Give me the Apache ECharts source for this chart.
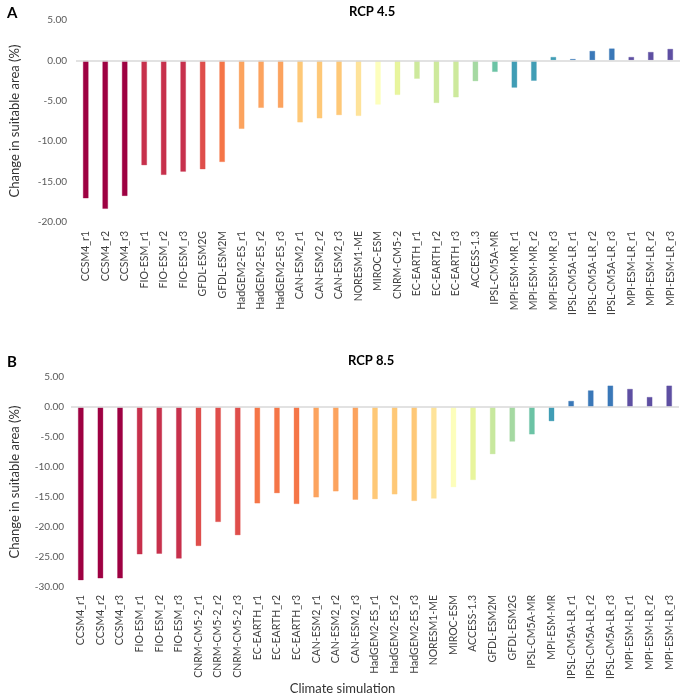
<!DOCTYPE html>
<html>
<head>
<meta charset="utf-8">
<script src="https://cdn.jsdelivr.net/npm/echarts@6/dist/echarts.min.js"></script>
<style>
html,body{margin:0;padding:0;background:#fff;}
#main{width:685px;height:695px;}
</style>
</head>
<body>
<div id="main"></div>
<script>
// ---- Data ----
const categoriesA = ['CCSM4_r1','CCSM4_r2','CCSM4_r3','FIO-ESM_r1','FIO-ESM_r2','FIO-ESM_r3','GFDL-ESM2G','GFDL-ESM2M','HadGEM2-ES_r1','HadGEM2-ES_r2','HadGEM2-ES_r3','CAN-ESM2_r1','CAN-ESM2_r2','CAN-ESM2_r3','NORESM1-ME','MIROC-ESM','CNRM-CM5-2','EC-EARTH_r1','EC-EARTH_r2','EC-EARTH_r3','ACCESS-1.3','IPSL-CM5A-MR','MPI-ESM-MR_r1','MPI-ESM-MR_r2','MPI-ESM-MR_r3','IPSL-CM5A-LR_r1','IPSL-CM5A-LR_r2','IPSL-CM5A-LR_r3','MPI-ESM-LR_r1','MPI-ESM-LR_r2','MPI-ESM-LR_r3'];
const valuesA = [-17.1,-18.4,-16.8,-13.0,-14.2,-13.8,-13.5,-12.6,-8.5,-5.9,-5.9,-7.7,-7.2,-6.8,-6.9,-5.5,-4.3,-2.3,-5.3,-4.6,-2.6,-1.45,-3.4,-2.55,0.45,0.2,1.2,1.5,0.45,1.07,1.45];

const categoriesB = ['CCSM4_r1','CCSM4_r2','CCSM4_r3','FIO-ESM_r1','FIO-ESM_r2','FIO-ESM_r3','CNRM-CM5-2_r1','CNRM-CM5-2_r2','CNRM-CM5-2_r3','EC-EARTH_r1','EC-EARTH_r2','EC-EARTH_r3','CAN-ESM2_r1','CAN-ESM2_r2','CAN-ESM2_r3','HadGEM2-ES_r1','HadGEM2-ES_r2','HadGEM2-ES_r3','NORESM1-ME','MIROC-ESM','ACCESS-1.3','GFDL-ESM2M','GFDL-ESM2G','IPSL-CM5A-MR','MPI-ESM-MR','IPSL-CM5A-LR_r1','IPSL-CM5A-LR_r2','IPSL-CM5A-LR_r3','MPI-ESM-LR_r1','MPI-ESM-LR_r2','MPI-ESM-LR_r3'];
const valuesB = [-28.9,-28.6,-28.6,-24.6,-24.5,-25.3,-23.2,-19.2,-21.4,-16.1,-14.4,-16.2,-15.1,-14.1,-15.5,-15.4,-14.6,-15.7,-15.3,-13.4,-12.2,-7.9,-5.8,-4.6,-2.4,1.05,2.8,3.6,3.05,1.7,3.6];

// ---- Styles ----
const colorsA = ['#9e0142','#9e0142','#9e0142','#c7304c','#c7304c','#c7304c','#df4e4b','#f57547','#fca35e','#fca35e','#fca35e','#fec877','#fec877','#fec877','#fee39a','#fdfebc','#e8f59d','#cde99c','#cde99c','#cde99c','#a5d9a2','#6cc3a5','#409db5','#409db5','#409db5','#3a78b8','#3a78b8','#3a78b8','#5e4fa2','#5e4fa2','#5e4fa2'];
const colorsB = ['#9e0142','#9e0142','#9e0142','#c7304c','#c7304c','#c7304c','#df4e4b','#df4e4b','#df4e4b','#f57547','#f57547','#f57547','#fca35e','#fca35e','#fca35e','#fec877','#fec877','#fec877','#fee39a','#fdfebc','#e8f59d','#c8e89e','#a5d9a2','#6cc3a5','#409db5','#3a78b8','#3a78b8','#3a78b8','#5e4fa2','#5e4fa2','#5e4fa2'];

const FONT = 'Lato, "Liberation Sans", sans-serif';

function barData(vals, cols){
  return vals.map((v,i)=>({value:v, itemStyle:{color:cols[i], borderColor:cols[i]+'55', borderWidth:1}}));
}
const zeroLine = {silent:true, symbol:['none','none'], label:{show:false},
  lineStyle:{color:'#d9d9d9', width:1.5, type:'solid'}, data:[{yAxis:0}]};

const chart = echarts.init(document.getElementById('main'));
chart.setOption({
  animation:false,
  backgroundColor:'#fff',
  title:[
    {text:'A', left:2, top:1, textStyle:{fontFamily:FONT, fontWeight:'bold', fontSize:15, color:'#000'}},
    {text:'RCP 4.5', left:344, top:0, textStyle:{fontFamily:FONT, fontWeight:'bold', fontSize:13, color:'#000'}},
    {text:'B', left:2, top:350, textStyle:{fontFamily:FONT, fontWeight:'bold', fontSize:15, color:'#000'}},
    {text:'RCP 8.5', left:343, top:349, textStyle:{fontFamily:FONT, fontWeight:'bold', fontSize:13, color:'#000'}},
    {text:'Climate simulation', left:'center', top:677, textStyle:{fontFamily:FONT, fontWeight:'normal', fontSize:13, color:'#333'}}
  ],
  grid:[
    {left:72, right:5, top:20, height:202},
    {left:66, right:6, top:377, height:210}
  ],
  xAxis:[
    {gridIndex:0, type:'category', data:categoriesA, position:'bottom',
      axisLine:{show:false}, axisTick:{show:false},
      axisLabel:{rotate:90, interval:0, margin:9, fontSize:10.5, fontFamily:FONT, color:'#404040'}},
    {gridIndex:1, type:'category', data:categoriesB, position:'bottom',
      axisLine:{show:false}, axisTick:{show:false},
      axisLabel:{rotate:90, interval:0, margin:8, fontSize:10.5, fontFamily:FONT, color:'#404040'}}
  ],
  yAxis:[
    {gridIndex:0, type:'value', min:-20, max:5, interval:5,
      name:'Change in suitable area (%)', nameLocation:'middle', nameGap:55,
      nameTextStyle:{fontFamily:FONT, fontSize:13, color:'#333'},
      axisLine:{show:false}, axisTick:{show:false}, splitLine:{show:false},
      axisLabel:{margin:9, fontSize:10, fontFamily:FONT, color:'#595959', formatter:v=>v.toFixed(2)}},
    {gridIndex:1, type:'value', min:-30, max:5, interval:5,
      name:'Change in suitable area (%)', nameLocation:'middle', nameGap:50,
      nameTextStyle:{fontFamily:FONT, fontSize:13, color:'#333'},
      axisLine:{show:false}, axisTick:{show:false}, splitLine:{show:false},
      axisLabel:{margin:7, fontSize:10, fontFamily:FONT, color:'#595959', formatter:v=>v.toFixed(2)}}
  ],
  series:[
    {type:'bar', xAxisIndex:0, yAxisIndex:0, barWidth:6, data:barData(valuesA, colorsA), markLine:zeroLine, z:2},
    {type:'bar', xAxisIndex:1, yAxisIndex:1, barWidth:6, data:barData(valuesB, colorsB), markLine:zeroLine, z:2}
  ]
});
</script>
</body>
</html>
